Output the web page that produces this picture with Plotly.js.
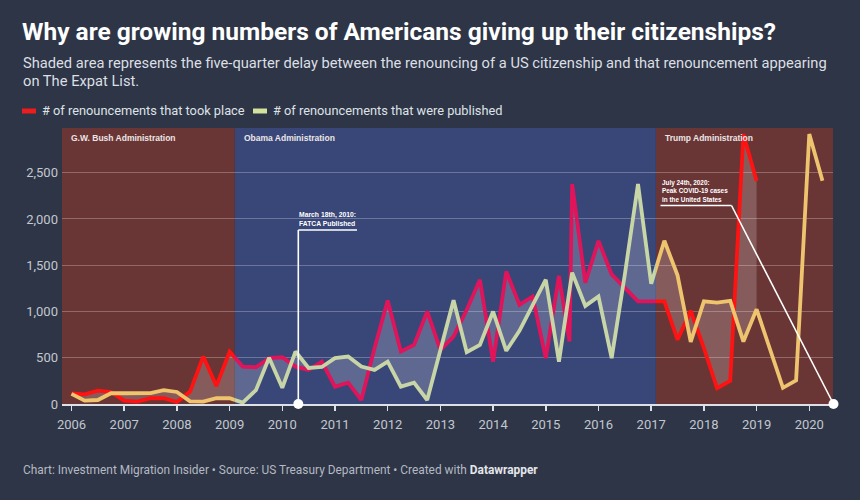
<!DOCTYPE html>
<html>
<head>
<meta charset="utf-8">
<script src="https://cdn.plot.ly/plotly-3.0.1.min.js"></script>
<style>
  html, body { margin: 0; padding: 0; background: #2d3546; }
  #chart { width: 860px; height: 500px; }
</style>
</head>
<body>
<div id="chart"></div>
<script>
// Quarterly US citizenship renunciations (decimal years = start of quarter)
const tookDates = [2006.00, 2006.25, 2006.50, 2006.75, 2007.00, 2007.25, 2007.50, 2007.75,
  2008.00, 2008.25, 2008.50, 2008.75, 2009.00, 2009.25, 2009.50, 2009.75,
  2010.00, 2010.25, 2010.50, 2010.75, 2011.00, 2011.25, 2011.50, 2011.75,
  2012.00, 2012.25, 2012.50, 2012.75, 2013.00, 2013.25, 2013.50, 2013.75,
  2014.00, 2014.25, 2014.50, 2014.75, 2015.00, 2015.25, 2015.45, 2015.50, 2015.75,
  2016.00, 2016.25, 2016.50, 2016.75, 2017.00, 2017.25, 2017.50, 2017.75,
  2018.00, 2018.25, 2018.50, 2018.75, 2019.00];
const tookCounts = [116, 105, 145, 130, 36, 25, 62, 62,
  22, 134, 514, 195, 567, 404, 397, 495,
  505, 404, 368, 458, 188, 231, 43, 603,
  1119, 567, 639, 1000, 585, 729, 1018, 1343,
  458, 1433, 1072, 1162, 495, 1386, 677, 2378, 1310,
  1763, 1401, 1254, 1109, 1109, 1109, 694, 1008,
  603, 170, 249, 2916, 2410];

const publishedDates = [2006.00, 2006.25, 2006.50, 2006.75, 2007.00, 2007.25, 2007.50, 2007.75,
  2008.00, 2008.25, 2008.50, 2008.75, 2009.00, 2009.25, 2009.50, 2009.75,
  2010.00, 2010.25, 2010.50, 2010.75, 2011.00, 2011.25, 2011.50, 2011.75,
  2012.00, 2012.25, 2012.50, 2012.75, 2013.00, 2013.25, 2013.50, 2013.75,
  2014.00, 2014.25, 2014.50, 2014.75, 2015.00, 2015.25, 2015.50, 2015.75,
  2016.00, 2016.25, 2016.50, 2016.75, 2017.00, 2017.25, 2017.50, 2017.75,
  2018.00, 2018.25, 2018.50, 2018.75, 2019.00, 2019.25, 2019.50, 2019.75,
  2020.00, 2020.25];
const publishedCounts = [109, 36, 43, 116, 116, 116, 118, 150,
  130, 28, 25, 62, 62, 15, 150, 500,
  175, 567, 390, 400, 495, 513, 404, 368,
  458, 188, 231, 43, 575, 1122, 560, 639,
  1000, 575, 790, 1072, 1343, 458, 1420, 1060,
  1162, 496, 1400, 2378, 1300, 1765, 1390, 672,
  1110, 1095, 1114, 675, 1024, 600, 175, 255,
  2918, 2412];

// Presidential administrations shown as background bands
const eraNames = ['G.W. Bush Administration', 'Obama Administration', 'Trump Administration'];
const eraBounds = [2005.82, 2009.10, 2017.09, 2020.45];

const yearTicks = [2006, 2007, 2008, 2009, 2010, 2011, 2012, 2013, 2014, 2015, 2016, 2017, 2018, 2019, 2020];
const countTicks = [0, 500, 1000, 1500, 2000, 2500];
const countTickText = ['0', '500', '1,000', '1,500', '2,000', '2,500'];

const seriesNames = ['# of renouncements that took place', '# of renouncements that were published'];

// Styling
const BG = '#2d3546';
const eraFill = ['#6a3535', '#394678', '#6a3535'];
const tookColor = ['#ff1212', '#e0145a', '#ff1212'];
const pubColor = ['#efc46f', '#c8d5a6', '#efc46f'];
const legendColor = ['#ee1c1c', '#d3e39c'];
const Y_MAX = 2983;

const W = 860, H = 500;
const M = { l: 62, r: 27, t: 128, b: 96 };
const plotW = W - M.l - M.r, plotH = H - M.t - M.b;
const px = v => (v - M.l) / plotW;       // pixel x -> paper x
const py = v => (H - M.b - v) / plotH;   // pixel y -> paper y

const span = eraBounds[3] - eraBounds[0];
const axisIds = ['x', 'x2', 'x3'];
const axisKeys = ['xaxis', 'xaxis2', 'xaxis3'];

// Band between the two series over the period both cover
const lastTook = tookDates[tookDates.length - 1];
const bandX = tookDates.slice();
const bandY = tookCounts.slice();
for (let i = publishedDates.length - 1; i >= 0; i--) {
  if (publishedDates[i] <= lastTook) { bandX.push(publishedDates[i]); bandY.push(publishedCounts[i]); }
}

const traces = [];
const layout = {
  width: W, height: H,
  margin: { l: M.l, r: M.r, t: M.t, b: M.b, pad: 0 },
  paper_bgcolor: BG,
  plot_bgcolor: 'rgba(0,0,0,0)',
  showlegend: false,
  font: { family: 'Roboto, "Liberation Sans", sans-serif', color: '#c3c7cf', size: 13 },
  yaxis: {
    anchor: 'x', domain: [0, 1], range: [0, Y_MAX],
    tickvals: countTicks, ticktext: countTickText,
    showgrid: true, gridcolor: 'rgba(255,255,255,0.26)', gridwidth: 1,
    zeroline: false, showline: false, ticks: '',
    ticklabelstandoff: 3,
    tickfont: { family: 'Roboto, sans-serif', size: 13, color: '#c3c7cf' },
    fixedrange: true
  },
  shapes: [],
  annotations: []
};

for (let k = 0; k < 3; k++) {
  const d0 = (eraBounds[k] - eraBounds[0]) / span;
  const d1 = (eraBounds[k + 1] - eraBounds[0]) / span;
  layout[axisKeys[k]] = {
    anchor: 'y', domain: [d0, d1], range: [eraBounds[k], eraBounds[k + 1]],
    tickvals: yearTicks, ticktext: yearTicks.map(String),
    showgrid: false, zeroline: false,
    showline: true, linecolor: '#dde0e5', linewidth: 1.5,
    ticks: 'outside', ticklen: 5, tickwidth: 1.5, tickcolor: '#dde0e5',
    ticklabelstandoff: 3,
    tickfont: { family: 'Roboto, sans-serif', size: 13, color: '#c3c7cf' },
    fixedrange: true
  };
  layout.shapes.push({
    type: 'rect', layer: 'below', xref: axisIds[k], yref: 'y',
    x0: eraBounds[k], x1: eraBounds[k + 1], y0: 0, y1: Y_MAX,
    fillcolor: eraFill[k], line: { width: 0 }
  });
  layout.annotations.push({
    xref: 'paper', yref: 'paper', x: d0 + px(M.l + 7), y: py(138),
    xanchor: 'left', yanchor: 'middle', showarrow: false,
    text: '<b>' + eraNames[k] + '</b>',
    font: { family: '"Liberation Sans", Arial, sans-serif', size: 8.5, color: '#ece6e6' }
  });

  traces.push({
    x: bandX, y: bandY, xaxis: axisIds[k], yaxis: 'y',
    type: 'scatter', mode: 'lines', fill: 'toself',
    fillcolor: 'rgba(255,255,255,0.19)', line: { width: 0 }, hoverinfo: 'skip'
  });
  traces.push({
    x: tookDates, y: tookCounts, xaxis: axisIds[k], yaxis: 'y', name: seriesNames[0],
    type: 'scatter', mode: 'lines', line: { color: tookColor[k], width: 3.8 }
  });
  traces.push({
    x: publishedDates, y: publishedCounts, xaxis: axisIds[k], yaxis: 'y', name: seriesNames[1],
    type: 'scatter', mode: 'lines', line: { color: pubColor[k], width: 3.8 }
  });
}

// Event call-outs: leader lines and dots
const white = '#ffffff';
const seg = (x0, y0, x1, y1) => ({
  type: 'line', xref: 'paper', yref: 'paper', layer: 'above',
  x0: px(x0), y0: py(y0), x1: px(x1), y1: py(y1),
  line: { color: white, width: 1.6 }
});
const dot = (cx, cy, r) => ({
  type: 'circle', xref: 'paper', yref: 'paper', layer: 'above',
  x0: px(cx - r), x1: px(cx + r), y0: py(cy + r), y1: py(cy - r),
  fillcolor: white, line: { width: 0 }
});
layout.shapes.push(seg(298.3, 230, 357, 230), seg(298.3, 230, 298.3, 404), dot(298.3, 404, 5));
layout.shapes.push(seg(660.5, 205.5, 731.5, 205.5), seg(731.5, 205.5, 833.5, 404), dot(833.5, 404, 5));

const calloutFont = { family: '"Liberation Sans", Arial, sans-serif', size: 6.8, color: white };
layout.annotations.push({
  xref: 'paper', yref: 'paper', x: px(297), y: py(229), xanchor: 'left', yanchor: 'bottom',
  showarrow: false, align: 'left',
  text: '<b>March 18th, 2010:</b><br><b>FATCA Published</b>', font: calloutFont
});
layout.annotations.push({
  xref: 'paper', yref: 'paper', x: px(659.5), y: py(204.5), xanchor: 'left', yanchor: 'bottom',
  showarrow: false, align: 'left',
  text: '<b>July 24th, 2020:</b><br><b>Peak COVID-19 cases</b><br><b>in the United States</b>',
  font: Object.assign({}, calloutFont, { size: 6.4 })
});

// Header, legend and footer
const roboto = 'Roboto, "Noto Sans", sans-serif';
layout.annotations.push({
  xref: 'paper', yref: 'paper', x: px(20), y: py(31), xanchor: 'left', yanchor: 'middle',
  showarrow: false,
  text: '<b>Why are growing numbers of Americans giving up their citizenships?</b>',
  font: { family: roboto, size: 24.5, color: '#ffffff' }
});
layout.annotations.push({
  xref: 'paper', yref: 'paper', x: px(21), y: py(63), xanchor: 'left', yanchor: 'middle',
  showarrow: false,
  text: 'Shaded area represents the five-quarter delay between the renouncing of a US citizenship and that renouncement appearing',
  font: { family: roboto, size: 14.7, color: '#dcdfe4' }
});
layout.annotations.push({
  xref: 'paper', yref: 'paper', x: px(21), y: py(81), xanchor: 'left', yanchor: 'middle',
  showarrow: false, text: 'on The Expat List.',
  font: { family: roboto, size: 14.7, color: '#dcdfe4' }
});

const legendX = [22, 253];
for (let s = 0; s < 2; s++) {
  layout.shapes.push({
    type: 'rect', xref: 'paper', yref: 'paper', layer: 'above',
    x0: px(legendX[s]), x1: px(legendX[s] + 14), y0: py(113.5), y1: py(108.5),
    fillcolor: legendColor[s], line: { width: 0 }
  });
  layout.annotations.push({
    xref: 'paper', yref: 'paper', x: px(legendX[s] + 18), y: py(111), xanchor: 'left', yanchor: 'middle',
    showarrow: false, text: seriesNames[s],
    font: { family: roboto, size: 12.8, color: '#dfe2e6' }
  });
}

layout.annotations.push({
  xref: 'paper', yref: 'paper', x: px(21), y: py(470), xanchor: 'left', yanchor: 'middle',
  showarrow: false,
  text: 'Chart: Investment Migration Insider • Source: US Treasury Department • Created with <b><span style="color:#e4e6ea">Datawrapper</span></b>',
  font: { family: roboto, size: 11.9, color: '#b4b9c2' }
});

Plotly.newPlot('chart', traces, layout, { staticPlot: true, displayModeBar: false });
</script>
</body>
</html>
